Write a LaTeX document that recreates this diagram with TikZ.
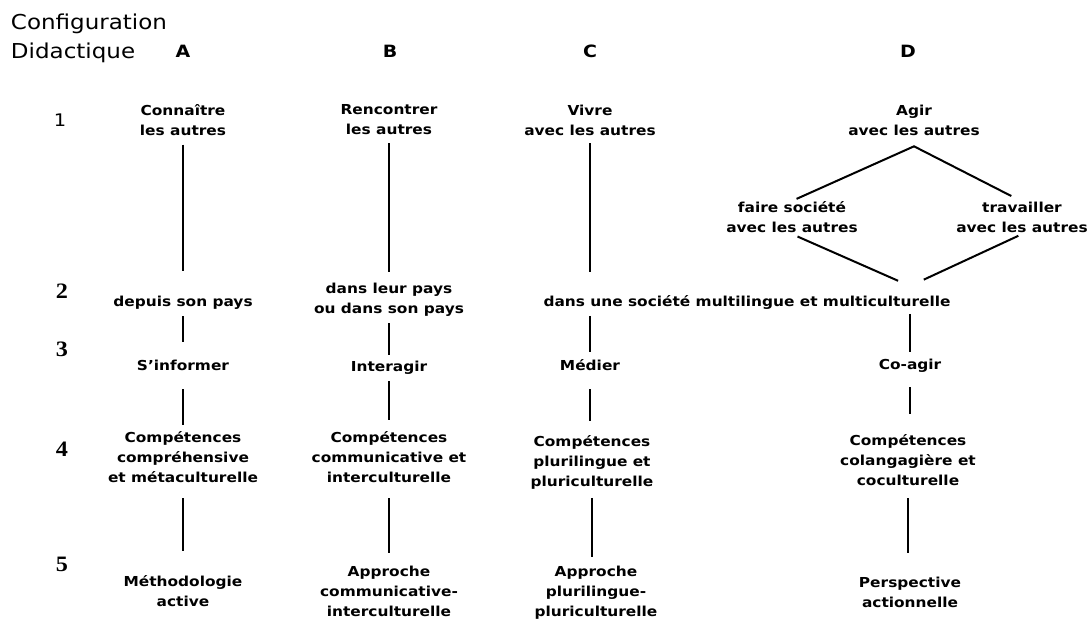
\documentclass[tikz,border=0pt]{standalone}
\usepackage{fontspec}
\newfontfamily\labfont[FakeStretch=1.12]{DejaVu Sans}
\newfontfamily\numfont[FakeStretch=1.1]{Liberation Serif}

\begin{document}
\begin{tikzpicture}[x=0.75pt,y=-0.75pt,line width=1.5pt]
  \tikzset{lab/.style={inner sep=0pt,align=center,font=\labfont\bfseries\fontsize{10.3}{15}\selectfont},
    colname/.style={inner sep=0pt,anchor=base,font=\labfont\bfseries\fontsize{12.7}{15}\selectfont},
    rownum/.style={inner sep=0pt,anchor=base,font=\numfont\bfseries\fontsize{16.5}{18}\selectfont},
    gap/.style 2 args={line width=1.5pt,shorten <=#1,shorten >=#2}}
  \useasboundingbox (0,0) rectangle (1091,618);
  % headings
  \node[anchor=north west,inner sep=0pt,align=left,font=\labfont\fontsize{15.4}{21.75}\selectfont] (conf) at (10,12.4) {Configuration\\Didactique};
  \node[colname] (A) at (183,57) {A};
  \node[colname] (B) at (390,57) {B};
  \node[colname] (C) at (590,57) {C};
  \node[colname] (D) at (908,57) {D};
  \node[inner sep=0pt,anchor=base,font=\labfont\fontsize{13}{15}\selectfont] (r1) at (60,126) {1};
  \node[rownum] (r2) at (62,298) {2};
  \node[rownum] (r3) at (62,356) {3};
  \node[rownum] (r4) at (62,456) {4};
  \node[rownum] (r5) at (62,571) {5};
  % row 1
  \node[lab] (conA) at (183,120) {Connaître\\les autres};
  \node[lab] (renB) at (389,120) {Rencontrer\\les autres};
  \node[lab] (vivC) at (590,120) {Vivre\\avec les autres};
  \node[lab] (agiD) at (914,120) {Agir\\avec les autres};
  \node[lab] (faiD) at (792,217.5) {faire société\\avec les autres};
  \node[lab] (traD) at (1022,217.8) {travailler\\avec les autres};
  % row 2
  \node[lab] (payA) at (183,302.4) {depuis son pays};
  \node[lab] (payB) at (389,299.4) {dans leur pays\\ou dans son pays};
  \node[lab] (soc) at (747,302) {dans une société multilingue et multiculturelle};
  % row 3
  \node[lab] (infA) at (183,365.8) {S’informer};
  \node[lab] (intB) at (389,367.6) {Interagir};
  \node[lab] (medC) at (590,365.5) {Médier};
  \node[lab] (coaD) at (910,365.3) {Co-agir};
  % row 4
  \node[lab] (comA) at (183,457.5) {Compétences\\compréhensive\\et métaculturelle};
  \node[lab] (comB) at (389,457.5) {Compétences\\communicative et\\interculturelle};
  \node[lab] (comC) at (592,462) {Compétences\\plurilingue et\\pluriculturelle};
  \node[lab] (comD) at (908,460.5) {Compétences\\colangagière et\\coculturelle};
  % row 5
  \node[lab] (metA) at (183,591.5) {Méthodologie\\active};
  \node[lab] (appB) at (389,591.8) {Approche\\communicative-\\interculturelle};
  \node[lab] (appC) at (596,592.4) {Approche\\plurilingue-\\pluriculturelle};
  \node[lab] (perD) at (910,592) {Perspective\\actionnelle};
  \coordinate (apex) at ([yshift=-7.5pt]agiD.south);
  \coordinate (join) at ([yshift=6pt]soc.north -| coaD);
  % column A
  \path (conA) edge[gap={6pt}{17.7pt}] (payA);
  \path (payA) edge[gap={4.5pt}{13.2pt}] (infA);
  \path (infA) edge[gap={12.75pt}{4.5pt}] (comA);
  \path (comA) edge[gap={10.5pt}{18pt}] (metA);
  % column B
  \path (renB) edge[gap={5.25pt}{7.2pt}] (payB);
  \path (payB) edge[gap={4.5pt}{3.75pt}] (intB);
  \path (intB) edge[gap={4.5pt}{8.25pt}] (comB);
  \path (comB) edge[gap={10.5pt}{9.45pt}] (appB);
  % column C
  \path (vivC) edge[gap={5.25pt}{16.5pt}] (vivC |- soc.north);
  \path (soc.south -| medC) edge[gap={4.5pt}{5.25pt}] (medC);
  \path (medC) edge[gap={12.75pt}{9.75pt}] (medC |- comC.north);
  \path (comC) edge[gap={6pt}{5.7pt}] (comC |- appC.north);
  % column D
  \draw[gap={3.75pt}{9pt}] (faiD.north) -- (apex) -- (traD.north);
  \path (faiD.south) edge[gap={4.5pt}{9.75pt}] (join);
  \path (traD.south) edge[gap={3pt}{11.4pt}] (join);
  \path (soc.south -| coaD) edge[gap={3pt}{4.2pt}] (coaD);
  \path (coaD) edge[gap={10.5pt}{15pt}] (coaD |- comD.north);
  \path (comD) edge[gap={8.25pt}{17.25pt}] (comD |- perD.north);
\end{tikzpicture}
\end{document}
